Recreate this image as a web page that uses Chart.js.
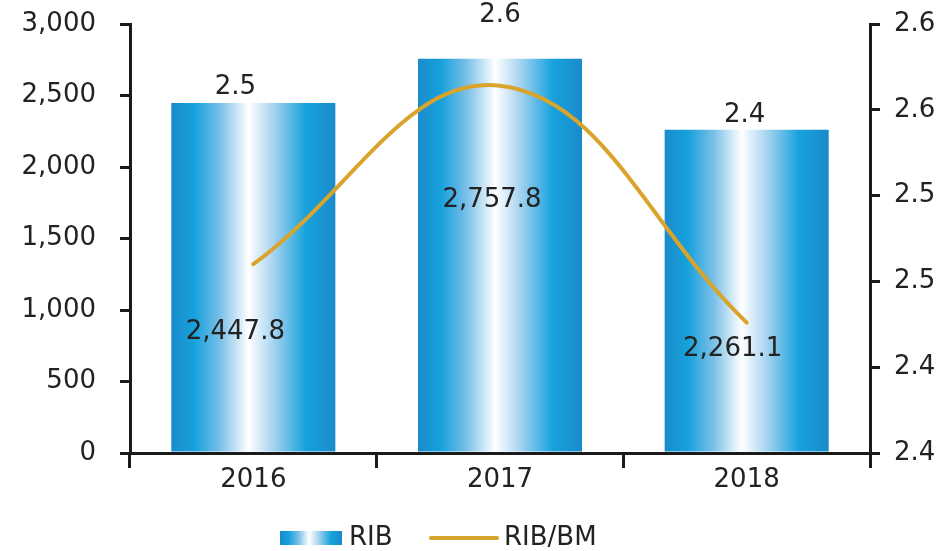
<!DOCTYPE html>
<html>
<head>
<meta charset="utf-8">
<script src="https://cdn.jsdelivr.net/npm/chart.js@4.4.1/dist/chart.umd.min.js"></script>
<style>
  body { margin: 0; background: #fff; }
  #wrap { width: 941px; height: 551px; }
</style>
</head>
<body>
<div id="wrap"><canvas id="ribChart" width="941" height="551"></canvas></div>
<script>
// Chart data
const years = ['2016', '2017', '2018'];
const ribValues = [2447.8, 2757.8, 2261.1];
const ribBmValues = [2.46, 2.564, 2.426];
const legendNames = ['RIB', 'RIB/BM'];

// Where the value labels sit, in left-axis units
const lineLabelAnchor = [2559, 3063, 2364];
const barLabelAnchor = [846, 1769, 727];
const lineLabelShift = [-18, 0, -2];
const barLabelShift = [-18, -8, -14];

const FONT = 'DejaVu Sans, Verdana, sans-serif';
const TEXT = '#222222';
const GOLD = '#d9a42b';
const BAR_PCT = 0.665;
const FS = 26;

// Blue - white - blue horizontal shading of the bars
function barGradient(c, x0, x1) {
    const g = c.createLinearGradient(x0, 0, x1, 0);
    g.addColorStop(0, '#1b8bcb');
    g.addColorStop(0.14, '#16a1dc');
    g.addColorStop(0.3, '#7cc0e8');
    g.addColorStop(0.47, '#ffffff');
    g.addColorStop(0.62, '#a8d4f0');
    g.addColorStop(0.82, '#17a2dd');
    g.addColorStop(1, '#1a8aca');
    return g;
}

// Value labels + custom legend
const labelPlugin = {
    id: 'labelPlugin',
    afterDatasetsDraw(chart) {
        const c = chart.ctx;
        const xs = chart.scales.x, ys = chart.scales.y;
        c.save();
        c.font = FS + 'px ' + FONT;
        c.fillStyle = TEXT;
        c.textAlign = 'center';
        c.textBaseline = 'middle';
        years.forEach((yr, i) => {
            const cx = xs.getPixelForValue(i);
            c.fillText((ribBmValues[i] + 1e-9).toFixed(1), cx + lineLabelShift[i], ys.getPixelForValue(lineLabelAnchor[i]));
            c.fillText(ribValues[i].toLocaleString('en-US', { minimumFractionDigits: 1 }),
                cx + barLabelShift[i], ys.getPixelForValue(barLabelAnchor[i]));
        });
        c.restore();
    },
    afterDraw(chart) {
        const c = chart.ctx;
        const ly = 538;
        c.save();
        // bar swatch
        c.fillStyle = barGradient(c, 280, 342);
        c.fillRect(280, ly - 7, 62, 14);
        // line swatch
        c.strokeStyle = GOLD;
        c.lineWidth = 4;
        c.lineCap = 'round';
        c.beginPath();
        c.moveTo(431, ly);
        c.lineTo(497, ly);
        c.stroke();
        c.font = FS + 'px ' + FONT;
        c.fillStyle = TEXT;
        c.textAlign = 'left';
        c.textBaseline = 'middle';
        c.fillText(legendNames[0], 349, ly);
        c.fillText(legendNames[1], 504, ly);
        c.restore();
    }
};

// fixed axis widths, no extra top/bottom padding from tick labels
function fixVertical(width) {
    return (s) => {
        s.width = width;
        s.paddingTop = 0;
        s.paddingBottom = 0;
    };
}

const ctx = document.getElementById('ribChart').getContext('2d');

new Chart(ctx, {
    type: 'bar',
    data: {
        labels: years,
        datasets: [
            {
                type: 'line',
                label: legendNames[1],
                data: ribBmValues,
                yAxisID: 'y1',
                borderColor: GOLD,
                borderWidth: 4,
                borderCapStyle: 'round',
                pointRadius: 0,
                tension: 0.4,
                order: 1
            },
            {
                label: legendNames[0],
                data: ribValues,
                yAxisID: 'y',
                barPercentage: BAR_PCT,
                categoryPercentage: 1,
                order: 2,
                backgroundColor: (context) => {
                    const chart = context.chart;
                    const xs = chart.scales && chart.scales.x;
                    if (!xs || context.dataIndex === undefined) return '#16a1dc';
                    const cx = xs.getPixelForValue(context.dataIndex);
                    const w = xs.width / years.length * BAR_PCT;
                    if (!isFinite(cx) || !isFinite(w)) return '#16a1dc';
                    return barGradient(chart.ctx, cx - w / 2, cx + w / 2);
                }
            }
        ]
    },
    options: {
        responsive: false,
        animation: false,
        layout: { padding: { top: 24, bottom: 0, left: 0, right: 0 } },
        plugins: {
            legend: { display: false },
            tooltip: { enabled: false }
        },
        scales: {
            x: {
                offset: true,
                grid: { offset: true, drawOnChartArea: false, color: '#1a1a1a', lineWidth: 3, tickLength: 15 },
                border: { color: '#1a1a1a', width: 3 },
                ticks: { color: TEXT, font: { family: FONT, size: FS }, padding: -3 },
                afterFit: (s) => { s.height = 98; }
            },
            y: {
                position: 'left',
                min: 0,
                max: 3000,
                grid: { drawOnChartArea: false, color: '#1a1a1a', lineWidth: 3, tickLength: 10 },
                border: { color: '#1a1a1a', width: 3 },
                ticks: {
                    stepSize: 500,
                    color: TEXT,
                    font: { family: FONT, size: FS },
                    padding: 24,
                    callback: (v) => v.toLocaleString('en-US')
                },
                afterFit: fixVertical(130)
            },
            y1: {
                position: 'right',
                min: 2.35,
                max: 2.6,
                grid: { drawOnChartArea: false, color: '#1a1a1a', lineWidth: 3, tickLength: 10 },
                border: { color: '#1a1a1a', width: 3 },
                ticks: {
                    stepSize: 0.05,
                    color: TEXT,
                    font: { family: FONT, size: FS },
                    padding: 14,
                    callback: (v) => (v + 1e-9).toFixed(1)
                },
                afterFit: fixVertical(71)
            }
        }
    },
    plugins: [labelPlugin]
});
</script>
</body>
</html>
